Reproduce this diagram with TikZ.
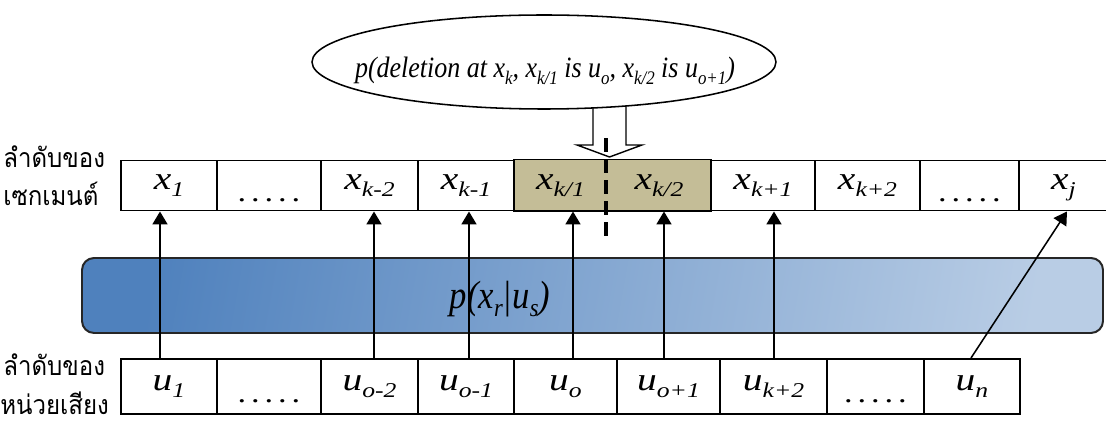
\documentclass[tikz,border=0pt]{standalone}
\usepackage{fontspec}
\setmainfont{Liberation Serif}
\newfontfamily\cellfont[FakeStretch=1.22]{Liberation Serif}
\newfontfamily\queryfont[FakeStretch=0.88]{Liberation Serif}
\newfontfamily\thaifont[Script=Thai,FakeStretch=0.9]{Loma}
\usetikzlibrary{shapes.geometric,arrows.meta,calc}

\newlength\pxu
\setlength\pxu{0.025cm}
\newcommand{\dn}[1]{\raisebox{-0.22em}{\scalebox{0.65}{#1}}}
\newcommand{\gap}{\raisebox{-8.5pt}{\fontsize{20}{24}\selectfont\upshape .\hspace{3.5pt}.\hspace{3.5pt}.\hspace{3.5pt}.\hspace{3.5pt}.}}
\definecolor{segtan}{HTML}{C4BD97}
\definecolor{bardark}{HTML}{4F81BD}
\definecolor{barlight}{HTML}{B9CDE5}

\begin{document}
\begin{tikzpicture}[x=0.025cm, y=-0.025cm,
  cell/.style={draw, line width=1.4pt, minimum height=50\pxu, inner sep=0pt, text height=10pt, text depth=4pt, font=\cellfont\fontsize{23}{27}\selectfont\itshape},
  ucell/.style={cell, minimum height=55\pxu},
  halfcell/.style={cell, draw=none, fill=segtan},
  arrow/.style={-{Triangle[width=10.7pt,length=9.2pt]}, line width=1.1pt},
  hollow/.style={line width=1pt, fill=white},
  cutline/.style={line width=2.5pt, dash pattern=on 10pt off 5pt},
  thai/.style={anchor=base west, inner sep=0pt, font=\thaifont\fontsize{19}{23}\selectfont}
]
\path[use as bounding box, clip] (0,0) rectangle (1106,425);

% Emission model band
\node[draw=black!85, line width=1.4pt, rounded corners=12\pxu, minimum width=1021\pxu, minimum height=75\pxu,
  left color=bardark, right color=barlight, shading angle=80] (bar) at (592.5,295.5) {};
\node[font=\queryfont\fontsize{28}{32}\selectfont\itshape] (prob) at (500,299) {p(x\dn{r}|u\dn{s})};

% Query ellipse and hollow arrow
\draw[hollow] (593,100) -- (593,145) -- (577,145) -- (609.5,157) -- (642,145) -- (626,145) -- (626,100);
\node[ellipse, draw, line width=1.1pt, fill=white, minimum width=464\pxu, minimum height=94\pxu] (query) at (544,62) {};
\node[font=\queryfont\fontsize{21}{25}\selectfont\itshape, anchor=base] (queryTxt) at (545,78)
  {p(deletion at x\dn{k}, x\dn{k/1} is u\dn{o}, x\dn{k/2} is u\dn{o+1})};

% Segment row (shaded pair first so borders stay on top)
\node[halfcell, minimum width=93\pxu] (xkA) at (560.5,185.5) {x\dn{k/1}};
\node[halfcell, minimum width=104\pxu] (xkB) at (659,185.5) {x\dn{k/2}};
\draw[line width=1.4pt] (xkA.north west) -- (xkB.north east);
\draw[line width=1.4pt] (xkA.south west) -- (xkB.south east);
\node[cell, minimum width=96\pxu] (x1) at (169,185.5) {x\dn{1}};
\node[cell, minimum width=104\pxu] (xd1) at (269,185.5) {\gap};
\node[cell, minimum width=97\pxu] (xk2m) at (369.5,185.5) {x\dn{k-2}};
\node[cell, minimum width=96\pxu] (xk1m) at (466,185.5) {x\dn{k-1}};
\node[cell, minimum width=104\pxu] (xk1p) at (763,185.5) {x\dn{k+1}};
\node[cell, minimum width=105\pxu] (xk2p) at (867.5,185.5) {x\dn{k+2}};
\node[cell, minimum width=99\pxu] (xd2) at (969.5,185.5) {\gap};
\node[cell, minimum width=89\pxu] (xj) at (1063.5,185.5) {x\dn{j}};

% Unit row
\node[ucell, minimum width=96\pxu] (u1) at (169,386.5) {u\dn{1}};
\node[ucell, minimum width=104\pxu] (ud1) at (269,386.5) {\gap};
\node[ucell, minimum width=97\pxu] (uo2) at (369.5,386.5) {u\dn{o-2}};
\node[ucell, minimum width=96\pxu] (uo1) at (466,386.5) {u\dn{o-1}};
\node[ucell, minimum width=103\pxu] (uo) at (565.5,386.5) {u\dn{o}};
\node[ucell, minimum width=103\pxu] (uop) at (668.5,386.5) {u\dn{o+1}};
\node[ucell, minimum width=107\pxu] (uk2) at (773.5,386.5) {u\dn{k+2}};
\node[ucell, minimum width=97\pxu] (ud2) at (875.5,386.5) {\gap};
\node[ucell, minimum width=96\pxu] (un) at (972,386.5) {u\dn{n}};

% Alignments
\draw[arrow] ($(u1.north)+(-9,0)$) -- ($(x1.south)+(-9,0)$);
\draw[arrow] ($(uo2.north)+(4.5,0)$) -- ($(xk2m.south)+(4.5,0)$);
\draw[arrow] ($(uo1.north)+(3,0)$) -- ($(xk1m.south)+(3,0)$);
\draw[arrow] ($(uo.north)+(7.5,0)$) -- ($(xkA.south)+(12.5,0)$);
\draw[arrow] ($(uop.north)+(-4.5,0)$) -- ($(xkB.south)+(5,0)$);
\draw[arrow] ($(uk2.north)+(0.5,0)$) -- ($(xk1p.south)+(11,0)$);
\draw[arrow] ($(un.north)+(-1,0)$) -- ($(xj.south)+(3.5,0)$);

% Deletion point
\draw[cutline] ($(xkB.north west)+(0,-21.5)$) -- ($(xkB.south west)+(0,31.5)$);

% Row captions
\node[thai] (seqTop) at (3,168) {ลำดับของ};
\node[thai] (segTxt) at (3,206) {เซกเมนต์};
\node[thai] (seqBot) at (3,376) {ลำดับของ};
\node[thai] (unitTxt) at (0,415) {หน่วยเสียง};
\end{tikzpicture}
\end{document}
